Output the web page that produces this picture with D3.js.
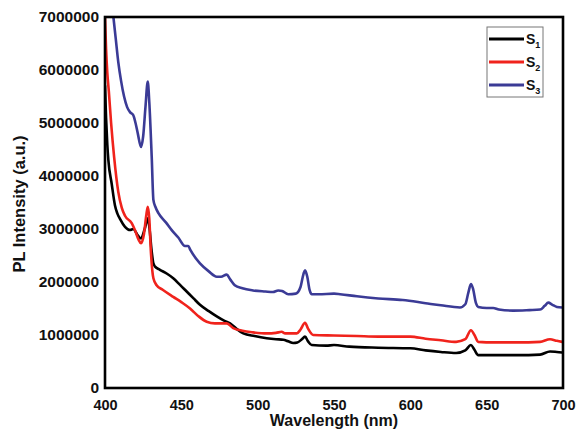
<!DOCTYPE html>
<html><head><meta charset="utf-8">
<script src="https://cdn.jsdelivr.net/npm/d3@7"></script>
<style>
body{margin:0;background:#fff;}
text{font-family:Arial,"Liberation Sans",sans-serif;font-weight:bold;fill:#111;}
</style></head>
<body><svg id="c" width="577" height="430"></svg>
<script>
const xTicks=[400,450,500,550,600,650,700];
const yTicks=[0,1000000,2000000,3000000,4000000,5000000,6000000,7000000];
const seriesNames=["S1","S2","S3"];
const seriesColors=["#000000","#f0231c","#3b3b96"];

const s1Wavelength=[400,400.7,401.5,402.2,404.4,406.5,408,410,413.1,416.4,418.5,421,423.6,426,428,429,430.5,431.7,432.8,436,440.4,444.7,449,453.5,458,462.2,468,473.2,478,481.9,486,490.6,498,505.9,512,516.8,520,523.3,526,529,531,533,535.4,545,550,560,579,600,610,620,630,636,639.7,642,644.5,655,670,685,691.5,696,699.5];
const s1Value=[5.7,5.1,4.6,4.3,3.85,3.45,3.3,3.18,3.04,2.98,3.0,2.9,2.82,3.0,3.2,3.05,2.6,2.35,2.29,2.23,2.16,2.07,1.95,1.82,1.69,1.57,1.45,1.35,1.27,1.22,1.12,1.03,0.98,0.94,0.92,0.91,0.88,0.85,0.86,0.92,0.97,0.88,0.81,0.80,0.81,0.78,0.76,0.75,0.71,0.68,0.66,0.71,0.81,0.72,0.62,0.62,0.62,0.63,0.69,0.68,0.67];

const s2Wavelength=[400,400.7,401.5,402.5,404,406,408.7,411,413.1,417.5,419.6,422,423.6,425.5,427,428,429,430,431.7,433.8,438,444.7,450,455.7,461,466.6,472,476,479.7,484,490,497,505.9,512,515.7,518,525.6,528,531,533,536.4,550,565,579,600,610,620,630,636,639.7,642,644.5,655,670,685,691.5,696,699.5];
const s2Value=[7.0,6.4,5.95,5.6,5.0,4.35,3.7,3.4,3.25,3.11,2.98,2.8,2.73,2.9,3.25,3.42,3.2,2.6,2.07,1.94,1.85,1.72,1.62,1.50,1.36,1.25,1.22,1.22,1.22,1.13,1.08,1.05,1.03,1.04,1.06,1.03,1.03,1.10,1.23,1.12,1.00,0.99,0.98,0.97,0.97,0.93,0.90,0.87,0.92,1.09,1.00,0.87,0.86,0.86,0.87,0.92,0.89,0.87];

const s3Wavelength=[405.5,407,408.7,410.5,412.5,414.5,416.5,418.5,420,421.5,423.6,425,426.5,428,429,430.6,431.7,433,435,440,443.7,448,452.4,454.5,456,462.2,468,473.2,476,479.7,482,485,490,497,505,510,513.5,516,520,525,528,530,531,532.5,534,535.5,540,550,554,565,579,595,610,620,632.5,636,638,639.7,641,643,644.5,650,654.3,658,667.4,678,685,688,690.4,693,696,699.5];
const s3Value=[7.0,6.6,6.15,5.8,5.5,5.3,5.2,5.15,5.0,4.8,4.55,4.75,5.3,5.78,5.4,4.36,3.55,3.42,3.30,3.12,2.98,2.84,2.68,2.68,2.60,2.35,2.20,2.10,2.10,2.14,2.05,1.94,1.88,1.84,1.82,1.81,1.84,1.83,1.77,1.78,1.90,2.15,2.22,2.10,1.85,1.77,1.77,1.78,1.77,1.73,1.69,1.66,1.60,1.56,1.52,1.58,1.80,1.96,1.88,1.60,1.53,1.51,1.51,1.48,1.46,1.47,1.48,1.55,1.61,1.57,1.53,1.52];

const wavelengths=[s1Wavelength,s2Wavelength,s3Wavelength];
const values=[s1Value,s2Value,s3Value];

const svg=d3.select("#c");
const L=105,R=563,T=17,B=388;
const x=d3.scaleLinear().domain([400,700]).range([L,R]);
const y=d3.scaleLinear().domain([0,7000000]).range([B,T]);

svg.append("defs").append("clipPath").attr("id","clip")
  .append("rect").attr("x",L).attr("y",T).attr("width",R-L).attr("height",B-T);

const line=d3.line().x(d=>x(d[0])).y(d=>y(d[1]*1e6)).curve(d3.curveMonotoneX);
const g=svg.append("g").attr("clip-path","url(#clip)");
[0,1,2].forEach(i=>{
  const pts=wavelengths[i].map((w,j)=>[w,values[i][j]]);
  g.append("path").datum(pts).attr("d",line).attr("fill","none")
   .attr("stroke",seriesColors[i]).attr("stroke-width",2.6)
   .attr("stroke-linejoin","round").attr("stroke-linecap","round");
});

const xAxis=svg.append("g").attr("transform",`translate(0,${B})`)
  .call(d3.axisBottom(x).tickValues(xTicks).tickSize(0).tickPadding(12).tickFormat(d3.format("d")));
xAxis.select(".domain").remove();
xAxis.selectAll("text").attr("font-size","14.5px").attr("fill","#111")
  .attr("font-family","Arial,'Liberation Sans',sans-serif").attr("font-weight","bold");

const yAxis=svg.append("g").attr("transform",`translate(${L},0)`)
  .call(d3.axisLeft(y).tickValues(yTicks).tickSize(0).tickPadding(6).tickFormat(d3.format("d")));
yAxis.select(".domain").remove();
yAxis.selectAll("text").attr("font-size","15.5px").attr("fill","#111")
  .attr("font-family","Arial,'Liberation Sans',sans-serif").attr("font-weight","bold");

svg.append("rect").attr("x",L).attr("y",T).attr("width",R-L).attr("height",B-T)
  .attr("fill","none").attr("stroke","#000").attr("stroke-width",2.6);

svg.append("text").attr("x",(L+R)/2).attr("y",426).attr("text-anchor","middle")
  .attr("font-size","16px").text("Wavelength (nm)");
svg.append("text").attr("transform","translate(25,204) rotate(-90)").attr("text-anchor","middle")
  .attr("font-size","16.5px").text("PL Intensity (a.u.)");

const lg=svg.append("g");
lg.append("rect").attr("x",487).attr("y",27).attr("width",56).attr("height",70)
  .attr("fill","#fff").attr("stroke","#777").attr("stroke-width",1);
const ly=[39,62,85];
seriesNames.forEach((n,i)=>{
  lg.append("line").attr("x1",489).attr("x2",524).attr("y1",ly[i]).attr("y2",ly[i])
    .attr("stroke",seriesColors[i]).attr("stroke-width",3);
  const t=lg.append("text").attr("x",526).attr("y",ly[i]+5).attr("font-size","14px")
    .attr("font-weight","normal");
  t.append("tspan").text(n[0]);
  t.append("tspan").attr("font-size","9px").attr("dy",4).text(n.slice(1));
});
</script></body></html>
